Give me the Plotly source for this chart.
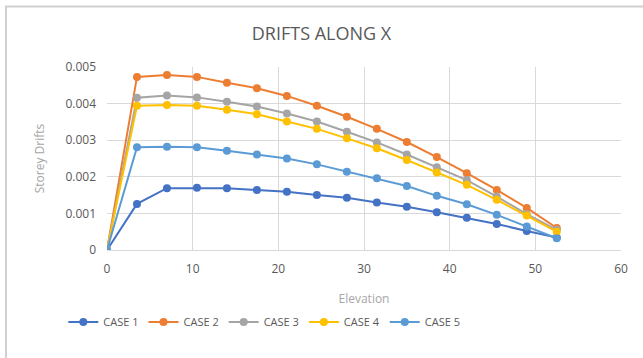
import plotly.graph_objects as go

elevation = [0, 3.5, 7, 10.5, 14, 17.5, 21, 24.5, 28, 31.5, 35, 38.5, 42, 45.5, 49, 52.5]
case1 = [0, 0.00126, 0.00169, 0.00170, 0.00169, 0.00164, 0.00159, 0.00150, 0.00143, 0.00130, 0.00118, 0.00103, 0.00088, 0.00071, 0.00052, 0.00034]
case2 = [0, 0.00473, 0.00478, 0.00473, 0.00457, 0.00442, 0.00421, 0.00394, 0.00364, 0.00331, 0.00295, 0.00254, 0.00210, 0.00164, 0.00115, 0.00060]
case3 = [0, 0.00416, 0.00422, 0.00417, 0.00405, 0.00392, 0.00373, 0.00351, 0.00323, 0.00294, 0.00261, 0.00226, 0.00191, 0.00146, 0.00098, 0.00055]
case4 = [0, 0.00394, 0.00396, 0.00394, 0.00383, 0.00371, 0.00351, 0.00331, 0.00305, 0.00278, 0.00246, 0.00212, 0.00178, 0.00137, 0.00094, 0.00050]
case5 = [0, 0.00281, 0.00282, 0.00281, 0.00271, 0.00261, 0.00250, 0.00234, 0.00214, 0.00196, 0.00175, 0.00148, 0.00125, 0.00096, 0.00064, 0.00032]

names = ["CASE 1", "CASE 2", "CASE 3", "CASE 4", "CASE 5"]
series = [case1, case2, case3, case4, case5]
colors = ["#4472C4", "#ED7D31", "#A5A5A5", "#FFC000", "#5B9BD5"]

FONT = "Open Sans, sans-serif"

fig = go.Figure()
for name, ys, c in zip(names, series, colors):
    fig.add_trace(go.Scatter(
        x=elevation, y=ys, name=name, mode="lines+markers",
        line=dict(color=c, width=2),
        marker=dict(color=c, size=8, symbol="circle"),
    ))

grid = "#d9d9d9"
fig.update_layout(
    width=643, height=358,
    margin=dict(l=107, r=22, t=67, b=108),
    paper_bgcolor="white", plot_bgcolor="white",
    font=dict(family=FONT, color="#595959", size=11),
    title=dict(text="DRIFTS ALONG X", x=0.5, xanchor="center", y=0.905, yanchor="middle",
               font=dict(family=FONT, size=18, color="#595959")),
    showlegend=True,
    legend=dict(orientation="h", x=-0.085, xanchor="left", y=-0.393, yanchor="middle",
                font=dict(family=FONT, size=11, color="#595959"), itemwidth=30),
    xaxis=dict(range=[0, 60], dtick=10, tick0=0, showgrid=True, gridcolor=grid, gridwidth=1,
               zeroline=False, showline=True, linecolor=grid, linewidth=1,
               ticks="", tickfont=dict(size=12, color="#595959"), ticklabelstandoff=8,
               title=dict(text="Elevation", font=dict(size=12, color="#a6a6a6"), standoff=18)),
    yaxis=dict(range=[0, 0.005], dtick=0.001, tick0=0, showgrid=True, gridcolor=grid, gridwidth=1,
               zeroline=False, showline=False, ticks="", tickfont=dict(size=12, color="#595959"),
               ticklabelstandoff=10,
               title=dict(text="Storey Drifts", font=dict(size=12, color="#a6a6a6"), standoff=18)),
    shapes=[
        dict(type="rect", xref="paper", yref="paper", x0=-0.1965, x1=1.3, y0=-0.9, y1=1.331,
             line=dict(color="#d0d0d0", width=2), fillcolor="rgba(0,0,0,0)", layer="above"),
    ],
)

fig.write_html("out.html", config={"displayModeBar": False},
               post_script="document.body.style.margin='0';document.body.style.overflow='hidden';")
